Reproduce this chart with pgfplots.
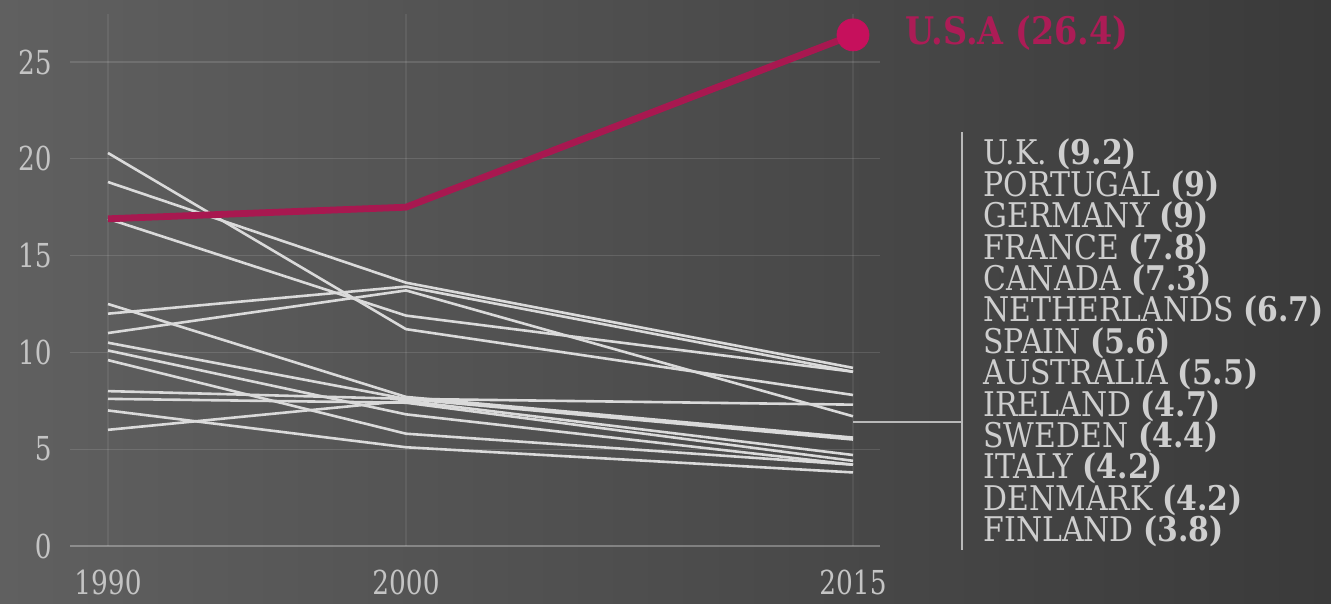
\documentclass[border=0pt]{standalone}
\usepackage{pgfplots}
\pgfplotsset{compat=1.18}
\usepackage{fontspec}
\setmainfont{DejaVu Serif}
\newfontfamily\tickfont{DejaVu Serif}[FakeStretch=0.8]
\newfontfamily\legfont{DejaVu Serif}[FakeStretch=0.88]
\definecolor{bgL}{RGB}{96,96,96}
\definecolor{bgR}{RGB}{58,58,58}
\definecolor{usline}{RGB}{168,24,80}
\definecolor{usdot}{RGB}{198,16,92}
\definecolor{ustext}{RGB}{172,28,86}
\definecolor{wline}{RGB}{218,218,218}
\definecolor{ticktxt}{RGB}{196,196,196}
\definecolor{legtxt}{RGB}{206,206,206}
\definecolor{legline}{RGB}{185,185,185}
\begin{document}
\begin{tikzpicture}
\useasboundingbox (0,0) rectangle (665.5pt,302pt);
\shade[left color=bgL, right color=bgR] (0,0) rectangle (665.5pt,302pt);
\begin{axis}[
  at={(35pt,29pt)}, anchor=south west,
  scale only axis, width=405pt, height=266.2pt,
  xmin=1988.725, xmax=2015.906, ymin=0, ymax=27.5,
  axis line style={draw=none},
  xtick={1990,2000,2015}, xticklabels={1990,2000,2015},
  ytick={0,5,10,15,20,25},
  major tick length=0pt,
  xmajorgrids, ymajorgrids,
  x grid style={draw=white, opacity=0.07, line width=0.6pt},
  y grid style={draw=white, opacity=0.12, line width=0.6pt},
  /pgf/number format/assume math mode=true,
  tick label style={font=\tickfont\fontsize{16.5pt}{19pt}\selectfont, text=ticktxt},
  xticklabel style={anchor=north, inner sep=0pt, yshift=-12pt},
  yticklabel style={anchor=east, inner sep=0pt, xshift=-9pt},
  clip=false,
]
\draw[white, opacity=0.2, line width=0.8pt] (axis cs:1988.725,0) -- (axis cs:2015.906,0);
% upper group
\addplot[wline, line width=1.3pt] coordinates {(1990,18.8)(2000,13.6)(2015,9.2)};  % U.K.
\addplot[wline, line width=1.3pt] coordinates {(1990,12.0)(2000,13.4)(2015,9.0)};  % Portugal
\addplot[wline, line width=1.3pt] coordinates {(1990,16.9)(2000,11.9)(2015,9.0)};  % Germany
\addplot[wline, line width=1.3pt] coordinates {(1990,20.3)(2000,11.2)(2015,7.8)};  % France
\addplot[wline, line width=1.3pt] coordinates {(1990,11.0)(2000,13.2)(2015,6.7)};  % Netherlands
% lower group
\addplot[wline, line width=1.3pt] coordinates {(1990,8.0)(2000,7.6)(2015,7.3)};    % Canada
\addplot[wline, line width=1.3pt] coordinates {(1990,12.5)(2000,7.7)(2015,5.6)};   % Spain
\addplot[wline, line width=1.3pt] coordinates {(1990,10.5)(2000,7.6)(2015,5.5)};   % Australia
\addplot[wline, line width=1.3pt] coordinates {(1990,6.0)(2000,7.5)(2015,4.7)};    % Ireland
\addplot[wline, line width=1.3pt] coordinates {(1990,7.6)(2000,7.4)(2015,4.4)};    % Sweden
\addplot[wline, line width=1.3pt] coordinates {(1990,10.1)(2000,6.8)(2015,4.2)};   % Italy
\addplot[wline, line width=1.3pt] coordinates {(1990,9.6)(2000,5.8)(2015,4.2)};    % Denmark
\addplot[wline, line width=1.3pt] coordinates {(1990,7.0)(2000,5.1)(2015,3.8)};    % Finland
% U.S.A.
\addplot[usline, line width=3.4pt, line join=round] coordinates {(1990,16.9)(2000,17.5)(2015,26.4)};
\addplot[only marks, mark=*, mark size=8pt, mark options={fill=usdot, draw=usdot}] coordinates {(2015,26.4)};
\node[anchor=west, inner sep=0pt, text=ustext, font=\legfont\bfseries\fontsize{19pt}{22pt}\selectfont, xshift=26pt, yshift=1pt] at (axis cs:2015,26.4) {U.S.A (26.4)};
% bracket
\draw[legline, line width=0.7pt] (axis cs:2015,6.4) -- (axis cs:2018.66,6.4);
\draw[legline, line width=0.7pt] (axis cs:2018.66,21.38) -- (axis cs:2018.66,-0.21);
\end{axis}
\node[anchor=base west, inner sep=0pt, text=legtxt, font=\legfont\fontsize{17pt}{15.7pt}\selectfont] at (491.5pt,219.5pt)
{\vtop{\baselineskip=15.7pt\lineskiplimit=-\maxdimen
\hbox{U.K. \textbf{(9.2)}}
\hbox{PORTUGAL \textbf{(9)}}
\hbox{GERMANY \textbf{(9)}}
\hbox{FRANCE \textbf{(7.8)}}
\hbox{CANADA \textbf{(7.3)}}
\hbox{NETHERLANDS \textbf{(6.7)}}
\hbox{SPAIN \textbf{(5.6)}}
\hbox{AUSTRALIA \textbf{(5.5)}}
\hbox{IRELAND \textbf{(4.7)}}
\hbox{SWEDEN \textbf{(4.4)}}
\hbox{ITALY \textbf{(4.2)}}
\hbox{DENMARK \textbf{(4.2)}}
\hbox{FINLAND \textbf{(3.8)}}}};
\end{tikzpicture}
\end{document}
